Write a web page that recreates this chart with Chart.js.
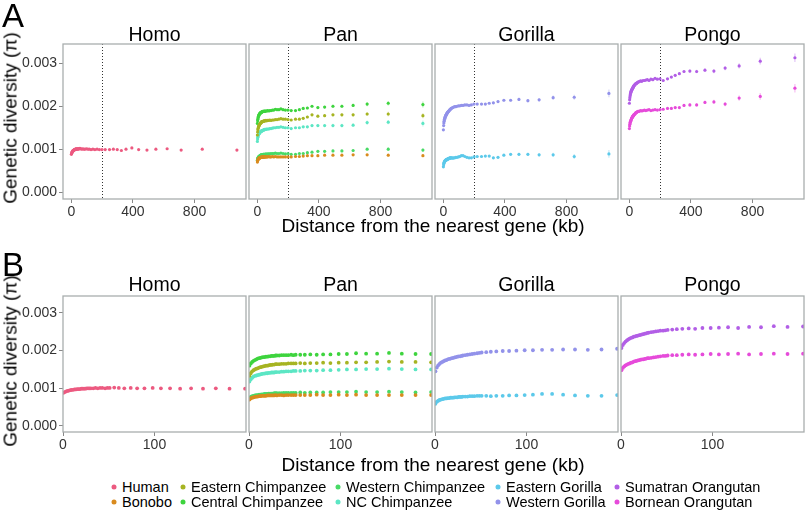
<!DOCTYPE html>
<html>
<head>
<meta charset="utf-8">
<script src="https://cdn.jsdelivr.net/npm/chart.js@4.4.1/dist/chart.umd.min.js"></script>
<style>
  body { margin: 0; width: 805px; height: 512px; background: #fff; position: relative; overflow: hidden;
         font-family: "Liberation Sans", Arial, sans-serif; color: #000; }
  canvas { position: absolute; }
  .txt { position: absolute; white-space: nowrap; line-height: 1; }
  .legend-item { position: absolute; font-size: 14.5px; line-height: 1; white-space: nowrap; transform: translateY(-50%); }
  .legend-dot { position: absolute; width: 5px; height: 5px; border-radius: 50%; transform: translate(-50%, -50%); }
</style>
</head>
<body>
<script>
// Distance bins (kb) shared by all species
const distKb = [0.5, 2, 3.5, 5, 6.5, 8, 9.5, 11, 12.5, 14, 15.5, 17, 18.5, 20, 21.5, 23, 24.5, 26, 27.5, 29, 30.5,
  33, 35.5, 38, 40.5, 43, 46, 48.5,
  51, 56, 61, 67, 74, 81, 89, 98, 107, 117, 128, 140, 153, 167, 182, 199,
  220, 248, 273, 298, 325, 355, 393, 437, 491, 549, 622, 713, 850, 1075];

const yTicks = [0, 0.001, 0.002, 0.003];
const xTicksA = [0, 400, 800];
const xTicksB = [0, 100];
const genera = ['Homo', 'Pan', 'Gorilla', 'Pongo'];
const speciesNames = ['Human', 'Bonobo', 'Eastern Chimpanzee', 'Central Chimpanzee', 'Western Chimpanzee',
  'NC Chimpanzee', 'Eastern Gorilla', 'Western Gorilla', 'Sumatran Orangutan', 'Bornean Orangutan'];
const cutoffKb = 200;

// Genetic diversity (pi) per species, one value per distance bin
const human = [0.00088, 0.00090, 0.00092, 0.00093, 0.00094, 0.00095, 0.00096, 0.00096, 0.00097, 0.00097, 0.00098, 0.00098, 0.00098, 0.00099, 0.00099, 0.00099, 0.00099, 0.00100, 0.00100, 0.00100, 0.00100,
  0.00100, 0.00101, 0.00100, 0.00101, 0.00101, 0.00100, 0.00101,
  0.00101, 0.00102, 0.00101, 0.00100, 0.00101, 0.00100, 0.00100, 0.00101, 0.00100, 0.00100, 0.00099, 0.00100, 0.00099, 0.00100, 0.00099, 0.00099,
  0.00099, 0.00099, 0.00100, 0.00099, 0.00097, 0.00100, 0.00103, 0.00099, 0.00098, 0.00100, 0.00101, 0.00098, 0.00100, 0.00098];
const bonobo = [0.00070, 0.00073, 0.00075, 0.00076, 0.00077, 0.00078, 0.00078, 0.00079, 0.00079, 0.00080, 0.00080, 0.00080, 0.00080, 0.00081, 0.00081, 0.00081, 0.00081, 0.00081, 0.00081, 0.00082, 0.00081,
  0.00082, 0.00082, 0.00081, 0.00082, 0.00082, 0.00082, 0.00082,
  0.00082, 0.00082, 0.00082, 0.00082, 0.00083, 0.00082, 0.00082, 0.00083, 0.00082, 0.00083, 0.00082, 0.00082, 0.00082, 0.00082, 0.00082, 0.00082,
  0.00082, 0.00083, 0.00083, 0.00084, 0.00085, 0.00085, 0.00085, 0.00086, 0.00086, 0.00086, 0.00087, 0.00087, 0.00086, 0.00085];
const easternChimp = [0.00133, 0.00140, 0.00145, 0.00148, 0.00150, 0.00152, 0.00153, 0.00155, 0.00156, 0.00157, 0.00158, 0.00159, 0.00160, 0.00160, 0.00161, 0.00162, 0.00162, 0.00163, 0.00163, 0.00164, 0.00164,
  0.00164, 0.00165, 0.00165, 0.00165, 0.00166, 0.00166, 0.00166,
  0.00166, 0.00167, 0.00166, 0.00167, 0.00167, 0.00168, 0.00167, 0.00168, 0.00168, 0.00169, 0.00169, 0.00170, 0.00171, 0.00170, 0.00170, 0.00169,
  0.00168, 0.00170, 0.00170, 0.00172, 0.00175, 0.00180, 0.00177, 0.00178, 0.00180, 0.00180, 0.00180, 0.00182, 0.00182, 0.00178];
const centralChimp = [0.00160, 0.00166, 0.00170, 0.00173, 0.00175, 0.00177, 0.00179, 0.00180, 0.00181, 0.00182, 0.00183, 0.00183, 0.00184, 0.00184, 0.00185, 0.00185, 0.00186, 0.00186, 0.00186, 0.00187, 0.00187,
  0.00187, 0.00188, 0.00188, 0.00188, 0.00188, 0.00189, 0.00188,
  0.00189, 0.00189, 0.00189, 0.00190, 0.00189, 0.00190, 0.00190, 0.00191, 0.00191, 0.00193, 0.00192, 0.00192, 0.00194, 0.00192, 0.00191, 0.00191,
  0.00190, 0.00190, 0.00192, 0.00195, 0.00196, 0.00200, 0.00197, 0.00198, 0.00200, 0.00200, 0.00202, 0.00205, 0.00207, 0.00204];
const westernChimp = [0.00074, 0.00077, 0.00079, 0.00080, 0.00081, 0.00082, 0.00082, 0.00083, 0.00083, 0.00084, 0.00084, 0.00085, 0.00085, 0.00085, 0.00086, 0.00086, 0.00086, 0.00086, 0.00087, 0.00087, 0.00087,
  0.00087, 0.00087, 0.00088, 0.00088, 0.00088, 0.00088, 0.00088,
  0.00088, 0.00089, 0.00088, 0.00089, 0.00089, 0.00089, 0.00090, 0.00090, 0.00090, 0.00091, 0.00090, 0.00090, 0.00091, 0.00090, 0.00089, 0.00090,
  0.00088, 0.00088, 0.00090, 0.00090, 0.00092, 0.00093, 0.00095, 0.00095, 0.00096, 0.00096, 0.00097, 0.00100, 0.00100, 0.00098];
const ncChimp = [0.00118, 0.00124, 0.00128, 0.00131, 0.00133, 0.00134, 0.00135, 0.00136, 0.00137, 0.00138, 0.00139, 0.00139, 0.00140, 0.00140, 0.00141, 0.00141, 0.00142, 0.00142, 0.00142, 0.00143, 0.00143,
  0.00143, 0.00144, 0.00144, 0.00145, 0.00145, 0.00145, 0.00146,
  0.00146, 0.00146, 0.00147, 0.00147, 0.00147, 0.00148, 0.00148, 0.00149, 0.00150, 0.00150, 0.00151, 0.00151, 0.00152, 0.00151, 0.00150, 0.00150,
  0.00148, 0.00150, 0.00150, 0.00152, 0.00152, 0.00155, 0.00155, 0.00155, 0.00155, 0.00155, 0.00156, 0.00162, 0.00163, 0.00160];
const easternGorilla = [0.00059, 0.00064, 0.00067, 0.00069, 0.00070, 0.00071, 0.00072, 0.00073, 0.00073, 0.00074, 0.00074, 0.00075, 0.00075, 0.00075, 0.00076, 0.00076, 0.00076, 0.00077, 0.00077, 0.00077, 0.00078,
  0.00078, 0.00078, 0.00079, 0.00079, 0.00079, 0.00080, 0.00080,
  0.00080, 0.00080, 0.00079, 0.00080, 0.00080, 0.00081, 0.00081, 0.00082, 0.00083, 0.00085, 0.00085, 0.00083, 0.00081, 0.00080, 0.00080, 0.00082,
  0.00083, 0.00083, 0.00084, 0.00084, 0.00080, 0.00081, 0.00086, 0.00088, 0.00088, 0.00088, 0.00087, 0.00087, 0.00083, 0.00089];
const westernGorilla = [0.00145, 0.00155, 0.00161, 0.00165, 0.00168, 0.00170, 0.00172, 0.00174, 0.00175, 0.00177, 0.00178, 0.00179, 0.00180, 0.00181, 0.00182, 0.00183, 0.00184, 0.00185, 0.00185, 0.00186, 0.00187,
  0.00188, 0.00189, 0.00190, 0.00191, 0.00192, 0.00193, 0.00194,
  0.00195, 0.00196, 0.00197, 0.00198, 0.00199, 0.00199, 0.00200, 0.00201, 0.00201, 0.00202, 0.00202, 0.00203, 0.00203, 0.00202, 0.00203, 0.00205,
  0.00205, 0.00205, 0.00205, 0.00207, 0.00208, 0.00211, 0.00214, 0.00214, 0.00216, 0.00213, 0.00215, 0.00220, 0.00221, 0.00230];
const sumatranOrangutan = [0.00207, 0.00215, 0.00220, 0.00224, 0.00227, 0.00230, 0.00232, 0.00234, 0.00235, 0.00237, 0.00238, 0.00239, 0.00240, 0.00241, 0.00242, 0.00243, 0.00244, 0.00245, 0.00246, 0.00247, 0.00248,
  0.00249, 0.00250, 0.00251, 0.00252, 0.00253, 0.00253, 0.00254,
  0.00255, 0.00256, 0.00257, 0.00258, 0.00259, 0.00258, 0.00260, 0.00260, 0.00261, 0.00262, 0.00260, 0.00263, 0.00262, 0.00265, 0.00263, 0.00264,
  0.00260, 0.00264, 0.00268, 0.00272, 0.00276, 0.00281, 0.00282, 0.00281, 0.00284, 0.00282, 0.00289, 0.00294, 0.00305, 0.00313];
const borneanOrangutan = [0.00148, 0.00154, 0.00158, 0.00161, 0.00163, 0.00165, 0.00166, 0.00168, 0.00169, 0.00171, 0.00172, 0.00173, 0.00174, 0.00175, 0.00176, 0.00177, 0.00177, 0.00178, 0.00179, 0.00180, 0.00180,
  0.00181, 0.00182, 0.00183, 0.00184, 0.00185, 0.00186, 0.00186,
  0.00187, 0.00188, 0.00188, 0.00189, 0.00190, 0.00189, 0.00190, 0.00191, 0.00190, 0.00191, 0.00192, 0.00190, 0.00191, 0.00192, 0.00191, 0.00192,
  0.00193, 0.00195, 0.00195, 0.00197, 0.00197, 0.00202, 0.00203, 0.00203, 0.00209, 0.00210, 0.00205, 0.00219, 0.00223, 0.00242];

// Error bar half-widths for the last (sparse) bins
const humanErr = [0.00001, 0.00001, 0.00001, 0.00001, 0.00001, 0.00001, 0.00001, 0.000015, 0.000015, 0.000015, 0.00002, 0.00002, 0.00002, 0.00003];
const bonoboErr = [0.00001, 0.00001, 0.00001, 0.00001, 0.00001, 0.000015, 0.000015, 0.000015, 0.00002, 0.00002, 0.00002, 0.000025, 0.00003, 0.00003];
const easternChimpErr = [0.00002, 0.00002, 0.00002, 0.00002, 0.00003, 0.00003, 0.00003, 0.00003, 0.00003, 0.00004, 0.00004, 0.00004, 0.00005, 0.00006];
const centralChimpErr = [0.00002, 0.00002, 0.00002, 0.00002, 0.00003, 0.00003, 0.00003, 0.00003, 0.00004, 0.00004, 0.00004, 0.00005, 0.00005, 0.00007];
const westernChimpErr = [0.00001, 0.00001, 0.00001, 0.00002, 0.00002, 0.00002, 0.00002, 0.00002, 0.00003, 0.00003, 0.00003, 0.00003, 0.00004, 0.00004];
const ncChimpErr = [0.00002, 0.00002, 0.00002, 0.00002, 0.00003, 0.00003, 0.00003, 0.00003, 0.00004, 0.00004, 0.00004, 0.00005, 0.00005, 0.00007];
const easternGorillaErr = [0.00002, 0.00002, 0.00002, 0.00002, 0.00003, 0.00003, 0.00003, 0.00003, 0.00004, 0.00004, 0.00004, 0.00005, 0.00006, 0.00009];
const westernGorillaErr = [0.00002, 0.00002, 0.00002, 0.00002, 0.00003, 0.00003, 0.00003, 0.00003, 0.00004, 0.00004, 0.00004, 0.00005, 0.00006, 0.00009];
const sumatranOrangutanErr = [0.00002, 0.00002, 0.00002, 0.00003, 0.00003, 0.00003, 0.00004, 0.00004, 0.00004, 0.00005, 0.00005, 0.00006, 0.00008, 0.0001];
const borneanOrangutanErr = [0.00002, 0.00002, 0.00002, 0.00003, 0.00003, 0.00003, 0.00004, 0.00004, 0.00004, 0.00005, 0.00005, 0.00006, 0.00008, 0.0001];

// Species setup (legend order)
const species = [
  { name: speciesNames[0], genus: 'Homo', values: human, err: humanErr, color: '#EC5A80' },
  { name: speciesNames[1], genus: 'Pan', values: bonobo, err: bonoboErr, color: '#D98B1E' },
  { name: speciesNames[2], genus: 'Pan', values: easternChimp, err: easternChimpErr, color: '#A6B422' },
  { name: speciesNames[3], genus: 'Pan', values: centralChimp, err: centralChimpErr, color: '#3ED43E' },
  { name: speciesNames[4], genus: 'Pan', values: westernChimp, err: westernChimpErr, color: '#48DA66' },
  { name: speciesNames[5], genus: 'Pan', values: ncChimp, err: ncChimpErr, color: '#5CE6C4' },
  { name: speciesNames[6], genus: 'Gorilla', values: easternGorilla, err: easternGorillaErr, color: '#5CC9EA' },
  { name: speciesNames[7], genus: 'Gorilla', values: westernGorilla, err: westernGorillaErr, color: '#9292EA' },
  { name: speciesNames[8], genus: 'Pongo', values: sumatranOrangutan, err: sumatranOrangutanErr, color: '#B25EE6' },
  { name: speciesNames[9], genus: 'Pongo', values: borneanOrangutan, err: borneanOrangutanErr, color: '#E64BDA' }
];

// Layout of the facets
const panelLefts = [63, 249, 435, 621];
const panelWidth = 183;
const rows = [
  { top: 44, bottom: 199, xMin: -54, xMax: 1134, xTicks: xTicksA, radius: 1.6, errors: true, cutoff: true, titleY: 25, letter: 'A', letterY: -1, yTitleY: 118, xTitleY: 216 },
  { top: 296, bottom: 432, xMin: 0, xMax: 200, xTicks: xTicksB, radius: 1.9, errors: false, cutoff: false, titleY: 275, letter: 'B', letterY: 248, yTitleY: 361, xTitleY: 455 }
];

function addText(text, css) {
  const d = document.createElement('div');
  d.className = 'txt';
  d.textContent = text;
  Object.assign(d.style, css);
  document.body.appendChild(d);
  return d;
}

// Panel frame
const framePlugin = {
  id: 'frame',
  afterDatasetsDraw(chart) {
    const { ctx, chartArea: a } = chart;
    ctx.save();
    ctx.strokeStyle = '#A9AEAE';
    ctx.lineWidth = 1.3;
    ctx.strokeRect(a.left, a.top, a.right - a.left, a.bottom - a.top);
    ctx.restore();
  }
};

// Dotted line at the cutoff distance
const cutoffPlugin = {
  id: 'cutoff',
  beforeDatasetsDraw(chart, args, opts) {
    if (!opts.show) return;
    const { ctx, chartArea: a, scales: { x } } = chart;
    const px = Math.round(x.getPixelForValue(cutoffKb)) + 0.5;
    ctx.save();
    ctx.strokeStyle = '#333';
    ctx.lineWidth = 1;
    ctx.setLineDash([1, 2]);
    ctx.beginPath();
    ctx.moveTo(px, a.top);
    ctx.lineTo(px, a.bottom);
    ctx.stroke();
    ctx.restore();
  }
};

// Vertical error bars for the sparse bins
const errorBarPlugin = {
  id: 'errorBars',
  beforeDatasetsDraw(chart, args, opts) {
    if (!opts.show) return;
    const { ctx, chartArea: a, scales: { x, y } } = chart;
    ctx.save();
    ctx.beginPath();
    ctx.rect(a.left, a.top, a.right - a.left, a.bottom - a.top);
    ctx.clip();
    chart.data.datasets.forEach(ds => {
      const off = ds.data.length - ds.err.length;
      ctx.strokeStyle = ds.errColor;
      ctx.lineWidth = 1.3;
      ds.err.forEach((e, i) => {
        const p = ds.data[off + i];
        const px = x.getPixelForValue(p.x);
        ctx.beginPath();
        ctx.moveTo(px, y.getPixelForValue(p.y - e));
        ctx.lineTo(px, y.getPixelForValue(p.y + e));
        ctx.stroke();
      });
    });
    ctx.restore();
  }
};

function makePanel(row, col) {
  const genus = genera[col];
  const padL = col === 0 ? 0 : 8;
  const left = col === 0 ? 0 : panelLefts[col] - padL;
  const top = row.top - 3;
  const width = panelLefts[col] + panelWidth + 3 - left;
  const height = (row.bottom - top) + 24;

  const canvas = document.createElement('canvas');
  canvas.width = width;
  canvas.height = height;
  canvas.style.left = left + 'px';
  canvas.style.top = top + 'px';
  canvas.style.width = width + 'px';
  canvas.style.height = height + 'px';
  document.body.appendChild(canvas);

  const datasets = species.filter(s => s.genus === genus).map(s => ({
    label: s.name,
    data: distKb.map((x, i) => ({ x: x, y: s.values[i] })),
    err: s.err,
    errColor: s.color + '55',
    backgroundColor: s.color,
    borderWidth: 0,
    pointRadius: row.radius,
    pointBorderWidth: 0,
    showLine: false,
    clip: 0
  }));

  new Chart(canvas, {
    type: 'scatter',
    data: { datasets },
    plugins: [framePlugin, cutoffPlugin, errorBarPlugin],
    options: {
      responsive: false,
      animation: false,
      devicePixelRatio: 1,
      events: [],
      layout: { autoPadding: false, padding: { left: padL, top: 3, right: 3, bottom: 0 } },
      plugins: {
        legend: { display: false },
        tooltip: { enabled: false },
        cutoff: { show: row.cutoff },
        errorBars: { show: row.errors }
      },
      scales: {
        x: {
          type: 'linear',
          min: row.xMin,
          max: row.xMax,
          afterFit: s => { s.height = 24; s.paddingLeft = 0; s.paddingRight = 0; },
          afterBuildTicks: s => { s.ticks = row.xTicks.map(v => ({ value: v })); },
          ticks: { color: '#333', font: { size: 14, family: 'Liberation Sans' }, padding: 1, maxRotation: 0, autoSkip: false },
          grid: { drawOnChartArea: false, drawTicks: true, tickLength: 4, color: '#888' },
          border: { display: false }
        },
        y: {
          display: col === 0,
          min: -0.00016,
          max: 0.00345,
          afterFit: s => { s.width = col === 0 ? 63 : 0; s.paddingTop = 0; s.paddingBottom = 0; },
          afterBuildTicks: s => { s.ticks = yTicks.map(v => ({ value: v })); },
          ticks: { color: '#333', font: { size: 14, family: 'Liberation Sans' }, padding: 2, callback: v => v.toFixed(3) },
          grid: { drawOnChartArea: false, drawTicks: true, tickLength: 4, color: '#888' },
          border: { display: false }
        }
      }
    }
  });

  addText(genus, { left: panelLefts[col] + 'px', top: row.titleY + 'px', width: panelWidth + 'px', textAlign: 'center', fontSize: '19.5px' });
}

rows.forEach(row => {
  genera.forEach((g, col) => makePanel(row, col));
  addText(row.letter, { left: '2px', top: row.letterY + 'px', fontSize: '33px' });
  const yt = addText('Genetic diversity (\u03c0)', { left: '10px', top: row.yTitleY + 'px', fontSize: '19px' });
  yt.style.transform = 'translate(-50%, -50%) rotate(-90deg)';
  addText('Distance from the nearest gene (kb)', { left: '433px', top: row.xTitleY + 'px', fontSize: '19px', transform: 'translateX(-50%)' });
});

// Legend: five columns, two rows
const legendCols = [114, 183, 338, 498, 617];
const legendRows = [487, 501.5];
const legendOrder = [[0, 1], [2, 3], [4, 5], [6, 7], [8, 9]];
legendOrder.forEach((pair, c) => {
  pair.forEach((idx, r) => {
    const s = species[idx];
    const dot = document.createElement('div');
    dot.className = 'legend-dot';
    dot.style.left = legendCols[c] + 'px';
    dot.style.top = legendRows[r] + 'px';
    dot.style.background = s.color;
    document.body.appendChild(dot);
    const t = document.createElement('div');
    t.className = 'legend-item';
    t.textContent = s.name;
    t.style.left = (legendCols[c] + 8) + 'px';
    t.style.top = legendRows[r] + 'px';
    document.body.appendChild(t);
  });
});
</script>
</body>
</html>
